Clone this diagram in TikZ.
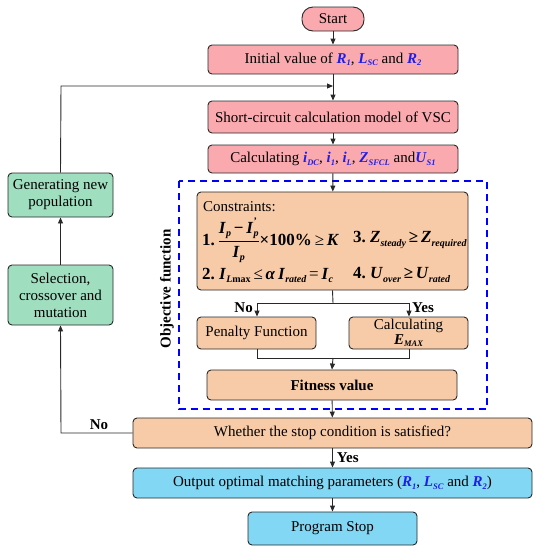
\documentclass[tikz,border=0pt]{standalone}
\usepackage{amsmath}
\usepackage{fontspec}
\setmainfont{Liberation Serif}
\usetikzlibrary{arrows.meta}
\definecolor{pinkf}{RGB}{250,170,175}
\definecolor{orf}{RGB}{248,203,168}
\definecolor{grf}{RGB}{160,222,192}
\definecolor{blf}{RGB}{130,215,245}
\definecolor{vb}{RGB}{30,30,230}
\definecolor{edge}{RGB}{40,40,40}
\newcommand{\subtx}[1]{\raisebox{-0.35ex}{\fontsize{8.5}{9}\selectfont\bfseries\itshape #1}}
\newcommand{\subtxb}[1]{\raisebox{-0.4ex}{\fontsize{10}{10}\selectfont\bfseries\itshape #1}}
\newcommand{\bv}[2]{\textcolor{vb}{\textbf{\textit{#1}}\subtx{#2}}}
\newcommand{\mv}[2]{\textbf{\textit{#1}}\subtx{#2}}
\newcommand{\mvb}[2]{\textbf{\textit{#1}}\subtxb{#2}}
\newcommand{\bb}[1]{\textbf{\textit{#1}}}
\begin{document}
\begin{tikzpicture}[x=1pt,y=-1pt,
  base/.style={draw=edge,line width=0.9pt,rounded corners=4pt,align=center,
    font=\fontsize{15}{17}\selectfont,inner sep=1pt},
  pinkbox/.style={base,fill=pinkf},
  orbox/.style={base,fill=orf},
  grbox/.style={base,fill=grf},
  blbox/.style={base,fill=blf},
  conn/.style={draw=edge,line width=0.9pt},
  arr/.style={conn,-{Triangle[length=6pt,width=5pt]}},
  lbl/.style={font=\fontsize{15}{17}\selectfont\bfseries,inner sep=0pt},
  ctext/.style={font=\fontsize{15}{17}\selectfont,inner sep=0pt,anchor=west},
  mtext/.style={font=\fontsize{17}{19}\selectfont,inner sep=0pt,anchor=west}]
\useasboundingbox (0,0) rectangle (540,550);

% main column
\node[pinkbox,rounded corners=11pt,minimum width=62pt,minimum height=24pt] (start) at (333,19) {Start};
\node[pinkbox,minimum width=250pt,minimum height=29pt] (init) at (333,59.5)
  {Initial value of \bv{R}{1}, \bv{L}{SC} and \bv{R}{2}};
\node[pinkbox,minimum width=250pt,minimum height=32pt] (scm) at (333,117)
  {Short-circuit calculation model of VSC};
\node[pinkbox,minimum width=250pt,minimum height=28pt] (calc) at (333,159)
  {Calculating \bv{i}{DC}, \bv{i}{1}, \bv{i}{L}, \bv{Z}{SFCL} and\bv{U}{S1}};

% dashed objective-function frame
\draw[blue,line width=1.5pt,dash pattern=on 7pt off 5pt] (179,181) rectangle (487,409);
\node[lbl,rotate=90] (obj) at (167,289) {Objective function};

\node[orbox,minimum width=271pt,minimum height=98pt] (cons) at (332.5,241) {};
\node[ctext] (ctitle) at (203,207) {Constraints:};
\node[mtext] (c1) at (202,240) {\textbf{1.}\,$\dfrac{\mbox{\mvb{I}{p}\,\textbf{−}\,\bb{I}\rlap{\raisebox{1.2ex}{\fontsize{10}{10}\selectfont\bfseries '}}\subtxb{p}}}{\mbox{\mvb{I}{p}}}$\textbf{×100\%}\,≥\,\bb{K}};
\node[mtext] (c3) at (353,240) {\textbf{3.}\ \mvb{Z}{steady}\,\textbf{≥}\,\mvb{Z}{required}};
\node[mtext] (c2) at (202,275) {\textbf{2.}\ \mvb{I}{L}\subtxb{\upshape max}\,≤\,\bb{α}\,\mvb{I}{rated}\,=\,\mvb{I}{c}};
\node[mtext] (c4) at (353,275) {\textbf{4.}\ \mvb{U}{over}\,\textbf{≥}\,\mvb{U}{rated}};

\node[orbox,minimum width=119pt,minimum height=32pt] (pen) at (256.5,333) {Penalty Function};
\node[orbox,minimum width=119pt,minimum height=32pt,font=\fontsize{15}{15}\selectfont] (emax) at (408.5,333) {Calculating\\\mv{E}{MAX}};
\node[orbox,minimum width=250pt,minimum height=30pt,font=\fontsize{15}{17}\selectfont\bfseries] (fit) at (332,385) {Fitness value};

\node[orbox,minimum width=399pt,minimum height=30pt] (wh) at (332.5,433) {Whether the stop condition is satisfied?};
\node[blbox,minimum width=399pt,minimum height=30pt] (out) at (332.5,483)
  {Output optimal matching parameters (\bv{R}{1}, \bv{L}{SC} and \bv{R}{2})};
\node[blbox,minimum width=169pt,minimum height=33pt] (stop) at (332.5,528.5) {Program Stop};

% left column
\node[grbox,minimum width=105pt,minimum height=44pt,font=\fontsize{15}{17}\selectfont] (gen) at (60.5,195) {Generating new\\population};
\node[grbox,minimum width=105pt,minimum height=60pt,font=\fontsize{15}{17}\selectfont] (sel) at (60.5,295) {Selection,\\crossover and\\mutation};

% coordinates
\coordinate (fb) at (333,86);
\coordinate (fbl) at (61,86);
\coordinate (nol) at (61,433);
\coordinate (br) at (333,303);
\coordinate (brl) at (257,303);
\coordinate (brr) at (409,303);
\coordinate (mg) at (333,358);
\coordinate (mgl) at (257,358);
\coordinate (mgr) at (409,358);

% connectors
\draw[arr] (start) -- (init);
\draw[arr] (init) -- (scm);
\draw[arr] (scm) -- (calc);
\draw[arr] (calc) -- (cons);
\draw[conn] (cons.south) -- (br);
\draw[conn] (brl) -- (brr);
\draw[arr] (brl) -- (pen.north -| brl);
\draw[arr] (brr) -- (emax.north -| brr);
\node[lbl,anchor=east] (nolab) at (253,308) {No};
\node[lbl,anchor=west] (yeslab) at (412,308) {Yes};
\draw[conn] (pen.south -| mgl) -- (mgl) -- (mgr) -- (emax.south -| mgr);
\draw[arr] (mg) -- (fit.north);
\draw[arr] (fit) -- (wh);
\draw[arr] (wh) -- node[lbl,right=4pt] (yes2) {Yes} (out);
\draw[arr] (out) -- (stop);
\draw[arr] (wh.west) -- (nol) -- (sel.south);
\node[lbl] (no2) at (99,425) {No};
\draw[arr] (sel) -- (gen);
\draw[arr] (gen.north) -- (fbl) -- (fb);
\end{tikzpicture}
\end{document}
